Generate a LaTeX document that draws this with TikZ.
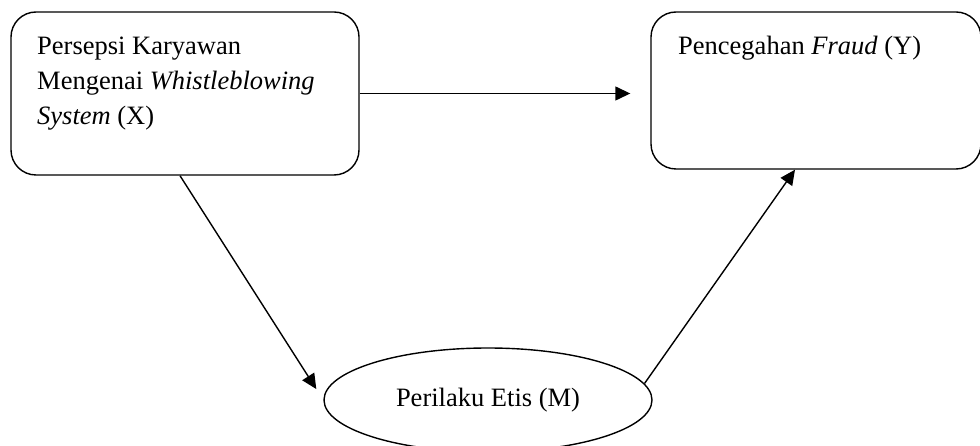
\documentclass[tikz,border=0pt]{standalone}
\usepackage{fontspec}
\setmainfont{Liberation Serif}
\usetikzlibrary{arrows.meta,shapes.geometric}

\tikzset{
  box/.style={draw, line width=1.4pt, rounded corners=25pt, inner sep=0pt},
  oval/.style={draw, ellipse, line width=1.4pt, inner sep=0pt},
  txt/.style={inner sep=0pt, align=left},
  link/.style={line width=1.4pt, -{Triangle[length=15pt,width=14pt]}}
}

\begin{document}
\begin{tikzpicture}[x=1pt, y=-1pt, font=\fontsize{26.5}{35}\selectfont]
\useasboundingbox (0,0) rectangle (980,446);

% the three variables
\node[box, minimum width=348pt, minimum height=163pt] (x) at (185,93.5) {};
\node[box, minimum width=330pt, minimum height=157pt] (y) at (816,90.5) {};
\node[oval, minimum width=328pt, minimum height=104pt] (m) at (488,400) {Perilaku Etis (M)};

\node[txt, anchor=base west] (xt) at (37,125) {Persepsi Karyawan\\Mengenai \textit{Whistleblowing}\\\textit{System} (X)};
\node[txt, anchor=base west] (yt) at (678,55) {Pencegahan \textit{Fraud} (Y)};

% paths
\draw[link, shorten >=20pt] (x.east) -- (x.east -| y.west);
\draw[link, shorten >=13pt] ([xshift=-5pt]x.south) -- (m.west);
\draw[link] (m.6) -- ([xshift=-21pt]y.south);
\end{tikzpicture}
\end{document}
